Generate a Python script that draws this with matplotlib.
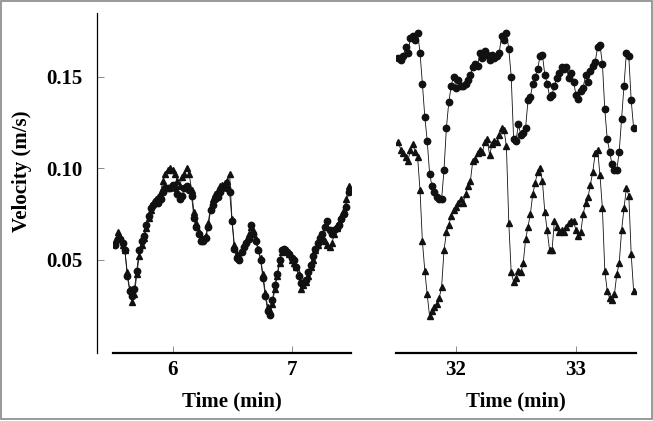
import numpy as np
import matplotlib
matplotlib.use("Agg")
import matplotlib.pyplot as plt
from matplotlib.patches import Rectangle

# readings every 0.02 min
t_left = np.round(5.52 + 0.02 * np.arange(99), 2)
t_right = np.round(31.52 + 0.02 * np.arange(99), 2)

v_left_circ = [0.058, 0.061, 0.061, 0.059, 0.055, 0.041, 0.033, 0.030, 0.034, 0.044,
               0.055, 0.060, 0.063, 0.069, 0.074, 0.078, 0.080, 0.082, 0.081, 0.083,
               0.087, 0.089, 0.089, 0.089, 0.091, 0.089, 0.086, 0.083, 0.085, 0.089,
               0.090, 0.088, 0.085, 0.073, 0.068, 0.064, 0.060, 0.060, 0.062, 0.068,
               0.077, 0.080, 0.083, 0.084, 0.087, 0.089, 0.090, 0.089, 0.087, 0.071,
               0.056, 0.051, 0.050, 0.054, 0.057, 0.059, 0.061, 0.069, 0.064, 0.060,
               0.055, 0.050, 0.040, 0.030, 0.022, 0.020, 0.028, 0.036, 0.042, 0.050,
               0.055, 0.056, 0.054, 0.053, 0.051, 0.050, 0.046, 0.041, 0.037, 0.037,
               0.039, 0.043, 0.047, 0.052, 0.056, 0.059, 0.062, 0.064, 0.068, 0.071,
               0.066, 0.064, 0.066, 0.067, 0.069, 0.072, 0.075, 0.079, 0.087]
v_left_tri = [0.060, 0.065, 0.062, 0.058, 0.055, 0.043, 0.034, 0.027, 0.031, 0.042,
              0.052, 0.058, 0.062, 0.067, 0.073, 0.077, 0.081, 0.083, 0.084, 0.087,
              0.093, 0.097, 0.099, 0.100, 0.099, 0.097, 0.093, 0.090, 0.095, 0.097,
              0.100, 0.097, 0.088, 0.076, 0.070, 0.065, 0.062, 0.061, 0.063, 0.070,
              0.079, 0.083, 0.086, 0.088, 0.090, 0.091, 0.092, 0.093, 0.097, 0.072,
              0.058, 0.053, 0.052, 0.055, 0.058, 0.060, 0.064, 0.068, 0.066, 0.061,
              0.056, 0.051, 0.042, 0.032, 0.024, 0.022, 0.026, 0.034, 0.041, 0.048,
              0.054, 0.056, 0.055, 0.053, 0.050, 0.048, 0.046, 0.042, 0.034, 0.036,
              0.038, 0.041, 0.046, 0.050, 0.055, 0.058, 0.061, 0.063, 0.060, 0.058,
              0.057, 0.059, 0.064, 0.067, 0.070, 0.074, 0.077, 0.083, 0.090]

v_right_circ = [0.160, 0.159, 0.161, 0.166, 0.163, 0.171, 0.172, 0.170, 0.174, 0.163,
                0.146, 0.128, 0.115, 0.097, 0.090, 0.087, 0.084, 0.083, 0.083, 0.099,
                0.122, 0.136, 0.145, 0.150, 0.144, 0.148, 0.145, 0.145, 0.146, 0.148,
                0.151, 0.155, 0.157, 0.156, 0.163, 0.160, 0.164, 0.162, 0.159, 0.162,
                0.160, 0.161, 0.163, 0.172, 0.170, 0.174, 0.165, 0.150, 0.116, 0.115,
                0.124, 0.118, 0.119, 0.122, 0.137, 0.139, 0.146, 0.150, 0.154, 0.161,
                0.162, 0.151, 0.146, 0.139, 0.140, 0.145, 0.149, 0.152, 0.155, 0.154,
                0.155, 0.149, 0.152, 0.147, 0.140, 0.138, 0.142, 0.144, 0.151, 0.147,
                0.153, 0.156, 0.158, 0.166, 0.167, 0.157, 0.132, 0.116, 0.109, 0.102,
                0.099, 0.099, 0.109, 0.127, 0.145, 0.163, 0.161, 0.137, 0.122]
v_right_tri = [0.114, 0.110, 0.108, 0.106, 0.104, 0.110, 0.113, 0.109, 0.106, 0.088,
               0.060, 0.044, 0.031, 0.019, 0.022, 0.024, 0.026, 0.029, 0.035, 0.055,
               0.065, 0.069, 0.074, 0.077, 0.079, 0.081, 0.083, 0.081, 0.086, 0.090,
               0.093, 0.104, 0.105, 0.108, 0.110, 0.109, 0.114, 0.116, 0.107, 0.113,
               0.115, 0.114, 0.118, 0.122, 0.121, 0.112, 0.070, 0.043, 0.038, 0.040,
               0.044, 0.043, 0.048, 0.061, 0.068, 0.075, 0.086, 0.092, 0.098, 0.100,
               0.093, 0.076, 0.066, 0.055, 0.055, 0.071, 0.068, 0.065, 0.066, 0.065,
               0.068, 0.070, 0.071, 0.071, 0.066, 0.063, 0.065, 0.075, 0.081, 0.084,
               0.091, 0.098, 0.108, 0.110, 0.096, 0.078, 0.044, 0.033, 0.029, 0.028,
               0.031, 0.042, 0.048, 0.066, 0.078, 0.089, 0.085, 0.053, 0.033]

y_ticks = [0.05, 0.10, 0.15]
font = "Liberation Serif"

fig = plt.figure(figsize=(6.53, 4.21), dpi=100)
ax1 = fig.add_axes([113 / 653, 68 / 421, 238 / 653, 340 / 421])
ax2 = fig.add_axes([396 / 653, 68 / 421, 240 / 653, 340 / 421])

line_kw = dict(color="#111111", lw=0.6, ms=4.6, mec="#111111", mfc="#111111")
ax1.plot(t_left, v_left_circ, marker="o", **line_kw)
ax1.plot(t_left, v_left_tri, marker="^", **line_kw)
ax2.plot(t_right, v_right_circ, marker="o", **line_kw)
ax2.plot(t_right, v_right_tri, marker="^", **line_kw)

for ax in (ax1, ax2):
    ax.set_ylim(-0.001, 0.1847)
    ax.spines["top"].set_visible(False)
    ax.spines["right"].set_visible(False)
    ax.spines["bottom"].set_linewidth(1.6)
    ax.tick_params(direction="in", length=5, width=0.6, color="#777777", pad=5)
    ax.set_xlabel("Time (min)", fontname=font, fontweight="bold", fontsize=15, labelpad=8)
    ax.patch.set_alpha(0)

ax1.set_xlim(5.5, 7.5)
ax1.set_xticks([6, 7])
ax1.set_xticklabels(["6", "7"], fontname=font, fontweight="bold", fontsize=15)
ax1.spines["left"].set_position(("outward", 11.5))
ax1.spines["left"].set_linewidth(0.9)
ax1.set_yticks(y_ticks)
ax1.set_yticklabels(["0.05", "0.10", "0.15"], fontname=font, fontweight="bold", fontsize=15)
ax1.tick_params(axis="y", pad=10.5)

ax2.set_xlim(31.5, 33.5)
ax2.set_xticks([32, 33])
ax2.set_xticklabels(["32", "33"], fontname=font, fontweight="bold", fontsize=15)
ax2.spines["left"].set_visible(False)
ax2.set_yticks([])

fig.text(22 / 653, 1 - 171 / 421, "Velocity (m/s)", rotation=90, ha="center", va="center",
         fontname=font, fontweight="bold", fontsize=15)

fig.patches.append(Rectangle((0.001, 0.004), 0.997, 0.994, transform=fig.transFigure,
                             fill=False, ec="#888888", lw=1.2))

fig.savefig("out.png", dpi=100)
